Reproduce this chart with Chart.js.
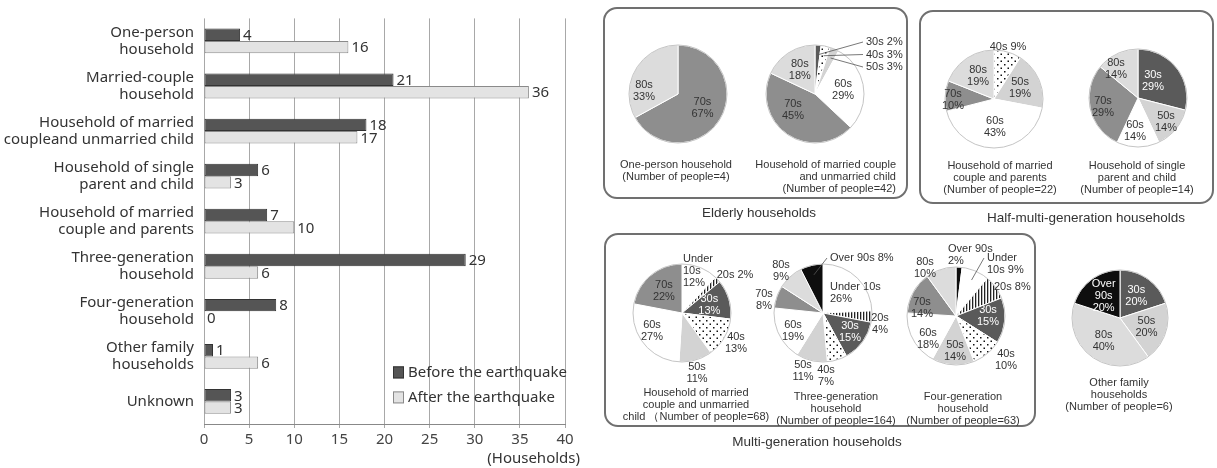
<!DOCTYPE html>
<html>
<head>
<meta charset="utf-8">
<script src="https://cdn.jsdelivr.net/npm/chart.js@4.4.1/dist/chart.umd.min.js"></script>
<style>
  html, body { margin: 0; padding: 0; background: #fff; }
  #wrap { position: relative; width: 1217px; height: 468px; overflow: hidden;
          font-family: "Liberation Sans", Arial, sans-serif; color: #333; }
  #wrap canvas { position: absolute; }
  .box { position: absolute; border: 2px solid #707070; border-radius: 14px; box-sizing: border-box; }
  .txt { position: absolute; white-space: nowrap; font-size: 11px; line-height: 12px; }
  .title { font-size: 13.5px; line-height: 15px; }
</style>
</head>
<body>
<div id="wrap">
  <canvas id="bars" width="600" height="468" style="left:0;top:0"></canvas>
  <div class="box" style="left:603px;top:7px;width:305px;height:192px"></div>
  <div class="box" style="left:919px;top:10px;width:295px;height:194px"></div>
  <div class="box" style="left:604px;top:233px;width:432px;height:194px"></div>
</div>
<script>
'use strict';

/* -------------------- bar chart data -------------------- */
const householdTypes = [
  ['One-person', 'household'],
  ['Married-couple', 'household'],
  ['Household of married', 'coupleand unmarried child'],
  ['Household of single', 'parent and child'],
  ['Household of married', 'couple and parents'],
  ['Three-generation', 'household'],
  ['Four-generation', 'household'],
  ['Other family', 'households'],
  'Unknown'
];
const beforeQuake = [4, 21, 18, 6, 7, 29, 8, 1, 3];
const afterQuake = [16, 36, 17, 3, 10, 6, 0, 6, 3];
const seriesNames = ['Before the earthquake', 'After the earthquake'];
const axisMax = 40;
const axisStep = 5;
const unitLabel = '(Households)';

/* -------------------- pie data (age shares, %) -------------------- */
const oneAges = ['70s', '80s'];
const oneShares = [67, 33];
const coupleChildAges = ['30s', '40s', '50s', '60s', '70s', '80s'];
const coupleChildShares = [2, 3, 3, 29, 45, 18];
const coupleParentsAges = ['40s', '50s', '60s', '70s', '80s'];
const coupleParentsShares = [9, 19, 43, 10, 19];
const singleParentAges = ['30s', '50s', '60s', '70s', '80s'];
const singleParentShares = [29, 14, 14, 29, 14];
const multiCoupleAges = ['Under 10s', '20s', '30s', '40s', '50s', '60s', '70s'];
const multiCoupleShares = [12, 2, 13, 13, 11, 27, 22];
const threeGenAges = ['Under 10s', '20s', '30s', '40s', '50s', '60s', '70s', '80s', 'Over 90s'];
const threeGenShares = [26, 4, 15, 7, 11, 19, 8, 9, 8];
const fourGenAges = ['Over 90s', 'Under 10s', '20s', '30s', '40s', '50s', '60s', '70s', '80s'];
const fourGenShares = [2, 9, 8, 15, 10, 14, 18, 14, 10];
const otherAges = ['30s', '50s', '80s', 'Over 90s'];
const otherShares = [20, 20, 40, 20];

const oneCaption = ['One-person household', '(Number of people=4)'];
const coupleChildCaption = ['Household of married couple', 'and unmarried child', '(Number of people=42)'];
const coupleParentsCaption = ['Household of married', 'couple and parents', '(Number of people=22)'];
const singleParentCaption = ['Household of single', 'parent and child', '(Number of people=14)'];
const multiCoupleCaption = ['Household of married', 'couple and unmarried', 'child （Number of people=68)'];
const threeGenCaption = ['Three-generation', 'household', '(Number of people=164)'];
const fourGenCaption = ['Four-generation', 'household', '(Number of people=63)'];
const otherCaption = ['Other family', 'households', '(Number of people=6)'];
const groupTitles = ['Elderly households', 'Half-multi-generation households', 'Multi-generation households'];

const wrap = document.getElementById('wrap');

/* -------------------- bar chart -------------------- */
const barText = {
  id: 'barText',
  afterDatasetsDraw(chart) {
    const {ctx, chartArea} = chart;
    ctx.save();
    ctx.font = '15px "Noto Sans", sans-serif';
    ctx.textBaseline = 'middle';
    ctx.textAlign = 'left';
    ctx.fillStyle = '#333';
    chart.data.datasets.forEach((ds, di) => {
      chart.getDatasetMeta(di).data.forEach((bar, i) => {
        ctx.fillText(String(ds.data[i]), bar.x + 3, bar.y + 1);
      });
    });
    // legend inside the plot, lower right
    chart.data.datasets.forEach((ds, di) => {
      const lx = chartArea.left + 189, ly = chartArea.top + 348 + di * 25;
      ctx.fillStyle = ds.backgroundColor;
      ctx.fillRect(lx, ly, 11, 12);
      ctx.strokeStyle = ds.borderColor;
      ctx.lineWidth = 1;
      ctx.strokeRect(lx + 0.5, ly + 0.5, 10, 11);
      ctx.fillStyle = '#333';
      ctx.fillText(ds.label, lx + 15, ly + 6);
    });
    ctx.textAlign = 'right';
    ctx.fillText(unitLabel, chartArea.right + 15, chartArea.bottom + 35);
    ctx.restore();
  }
};

Chart.defaults.font.family = '"Noto Sans", sans-serif';
Chart.defaults.color = '#333';

new Chart(document.getElementById('bars'), {
  type: 'bar',
  data: {
    labels: householdTypes,
    datasets: [
      { label: seriesNames[0], data: beforeQuake, backgroundColor: '#555555', borderColor: '#333333' },
      { label: seriesNames[1], data: afterQuake, backgroundColor: '#e3e3e3', borderColor: '#8a8a8a' }
    ]
  },
  options: {
    indexAxis: 'y',
    responsive: false,
    animation: false,
    events: [],
    layout: { padding: { top: 13, right: 35, left: 0, bottom: 0 } },
    datasets: { bar: { categoryPercentage: 0.55, barPercentage: 1, borderWidth: 1, borderSkipped: false } },
    plugins: { legend: { display: false }, tooltip: { enabled: false } },
    scales: {
      x: {
        min: 0, max: axisMax,
        ticks: { stepSize: axisStep, font: { size: 15 }, color: '#444', padding: 3 },
        grid: { color: '#a8a8a8', tickLength: 4 },
        border: { color: '#888' },
        afterFit(scale) { scale.height = 44; }
      },
      y: {
        grid: { display: false, drawTicks: false },
        border: { display: false },
        ticks: { font: { size: 15, lineHeight: 1.12 }, color: '#333', padding: 10 },
        afterFit(scale) { scale.width = 204; }
      }
    }
  },
  plugins: [barText]
});

/* -------------------- pies -------------------- */
function makeDots() {
  const c = document.createElement('canvas');
  c.width = 7; c.height = 7;
  const g = c.getContext('2d');
  g.fillStyle = '#fff'; g.fillRect(0, 0, 7, 7);
  g.fillStyle = '#111';
  g.fillRect(1, 1, 1.5, 1.5);
  g.fillRect(4.5, 4.5, 1.5, 1.5);
  return g.createPattern(c, 'repeat');
}
function makeStripes() {
  const c = document.createElement('canvas');
  c.width = 3; c.height = 3;
  const g = c.getContext('2d');
  g.fillStyle = '#fff'; g.fillRect(0, 0, 3, 3);
  g.fillStyle = '#222'; g.fillRect(0, 0, 1.3, 3);
  return g.createPattern(c, 'repeat');
}
const ageFill = {
  'Under 10s': '#ffffff', '20s': makeStripes(), '30s': '#5a5a5a', '40s': makeDots(),
  '50s': '#d3d3d3', '60s': '#ffffff', '70s': '#8e8e8e', '80s': '#dcdcdc', 'Over 90s': '#0e0e0e'
};
const darkAges = ['30s', 'Over 90s'];

function pieText(p) {
  return {
    id: 'pieText',
    afterDatasetsDraw(chart) {
      const ctx = chart.ctx;
      const arcs = chart.getDatasetMeta(0).data;
      ctx.save();
      const a0 = arcs[0].getProps(['x', 'y', 'outerRadius'], true);
      ctx.beginPath();
      ctx.arc(a0.x, a0.y, a0.outerRadius, 0, Math.PI * 2);
      ctx.strokeStyle = '#c4c4c4';
      ctx.lineWidth = 1;
      ctx.stroke();
      ctx.font = '11px "Liberation Sans", Arial, sans-serif';
      ctx.textBaseline = 'middle';
      arcs.forEach((arc, i) => {
        const a = arc.getProps(['x', 'y', 'startAngle', 'endAngle', 'outerRadius'], true);
        const mid = (a.startAngle + a.endAngle) / 2;
        const age = p.ages[i], pct = p.shares[i] + '%';
        const f = p.fmt ? p.fmt[i] : null;
        let lines;
        if (f === 'one') lines = [age + ' ' + pct];
        else if (f === 'split') lines = age.split(' ').concat([pct]);
        else if (f === 'under') { const w = age.split(' '); lines = [w[0], w[1] + ' ' + pct]; }
        else lines = [age, pct];
        const pl = p.place ? p.place[i] : null;
        let x, y, align = 'center';
        if (pl) {
          x = a.x + pl[0]; y = a.y + pl[1]; align = pl[2] || 'center';
        } else {
          x = a.x + Math.cos(mid) * a.outerRadius * 0.58;
          y = a.y + Math.sin(mid) * a.outerRadius * 0.58;
        }
        const lh = 12;
        const top = y - (lines.length - 1) * lh / 2;
        if (pl && pl[3]) {
          ctx.beginPath();
          ctx.moveTo(a.x + Math.cos(mid) * a.outerRadius * 0.8, a.y + Math.sin(mid) * a.outerRadius * 0.8);
          ctx.lineTo(x - 3, top);
          ctx.strokeStyle = '#555';
          ctx.lineWidth = 0.8;
          ctx.stroke();
        }
        const inside = Math.hypot(x - a.x, y - a.y) < a.outerRadius * 0.8;
        ctx.fillStyle = (inside && darkAges.includes(age)) ? '#fff' : '#333';
        ctx.textAlign = align;
        lines.forEach((ln, k) => ctx.fillText(ln, x, top + k * lh));
      });
      ctx.restore();
    }
  };
}

const pies = [
  { ages: oneAges, shares: oneShares, cx: 678, cy: 94, r: 49,
    caption: oneCaption, capX: 676, capY: 164,
    place: [null, [-34, -3]] },
  { ages: coupleChildAges, shares: coupleChildShares, cx: 815, cy: 94, r: 49,
    caption: coupleChildCaption, capX: 896, capY: 164, capAlign: 'right',
    fmt: ['one', 'one', 'one'],
    place: [[51, -52, 'left', 1], [51, -39.5, 'left', 1], [51, -27, 'left', 1], null, [-22, 16], null] },
  { ages: coupleParentsAges, shares: coupleParentsShares, cx: 994, cy: 99, r: 49,
    caption: coupleParentsCaption, capX: 1000, capY: 165,
    fmt: ['one'],
    place: [[14, -52], null, null, [-41, 1], null] },
  { ages: singleParentAges, shares: singleParentShares, cx: 1138, cy: 98, r: 49,
    caption: singleParentCaption, capX: 1137, capY: 165,
    place: [[15, -17], [28, 24], [-3, 33], [-35, 9], [-22, -29.5]] },
  { ages: multiCoupleAges, shares: multiCoupleShares, cx: 682, cy: 313, r: 49,
    caption: multiCoupleCaption, capX: 696, capY: 392,
    fmt: ['split', 'one'],
    place: [[1, -42, 'left'], [53, -38], null, [54, 30], [15, 60], [-30, 18], null] },
  { ages: threeGenAges, shares: threeGenShares, cx: 823, cy: 313, r: 49,
    caption: threeGenCaption, capX: 836, capY: 396,
    fmt: [null, null, null, null, null, null, null, null, 'one'],
    place: [[7, -20, 'left'], [57, 11], [27, 19], [3, 63], [-20, 58], [-30, 18], [-59, -13], [-42, -42], [7, -55, 'left', 1]] },
  { ages: fourGenAges, shares: fourGenShares, cx: 956, cy: 316, r: 49,
    caption: fourGenCaption, capX: 963, capY: 396,
    fmt: [null, 'under', 'one'],
    place: [[-8, -61, 'left'], [31, -52, 'left', 1], [38, -29, 'left'], [32, 0], [50, 44], [-1, 35], [-28, 23], [-34, -8], [-31, -48]] },
  { ages: otherAges, shares: otherShares, cx: 1120, cy: 318, r: 48,
    caption: otherCaption, capX: 1119, capY: 382,
    fmt: [null, null, null, 'split'] }
];

function addText(lines, x, y, align, cls) {
  const d = document.createElement('div');
  d.className = 'txt' + (cls ? ' ' + cls : '');
  d.innerHTML = lines.join('<br>');
  d.style.textAlign = align || 'center';
  d.style.top = (y - 6) + 'px';
  d.style.left = x + 'px';
  d.style.transform = align === 'right' ? 'translateX(-100%)' : 'translateX(-50%)';
  wrap.appendChild(d);
}

const PW = 220, PH = 170;
pies.forEach(p => {
  const cv = document.createElement('canvas');
  cv.width = PW; cv.height = PH;
  cv.style.left = (p.cx - PW / 2) + 'px';
  cv.style.top = (p.cy - PH / 2) + 'px';
  wrap.appendChild(cv);
  new Chart(cv, {
    type: 'pie',
    data: {
      labels: p.ages,
      datasets: [{
        data: p.shares,
        backgroundColor: p.ages.map(a => ageFill[a]),
        borderColor: '#ffffff',
        borderWidth: 1
      }]
    },
    options: {
      responsive: false,
      animation: false,
      events: [],
      radius: p.r,
      layout: { padding: 0 },
      plugins: { legend: { display: false }, tooltip: { enabled: false } }
    },
    plugins: [pieText(p)]
  });
  addText(p.caption, p.capX, p.capY, p.capAlign);
});

addText([groupTitles[0]], 759, 210.5, 'center', 'title');
addText([groupTitles[1]], 1086, 215.5, 'center', 'title');
addText([groupTitles[2]], 817, 439.5, 'center', 'title');
</script>
</body>
</html>
